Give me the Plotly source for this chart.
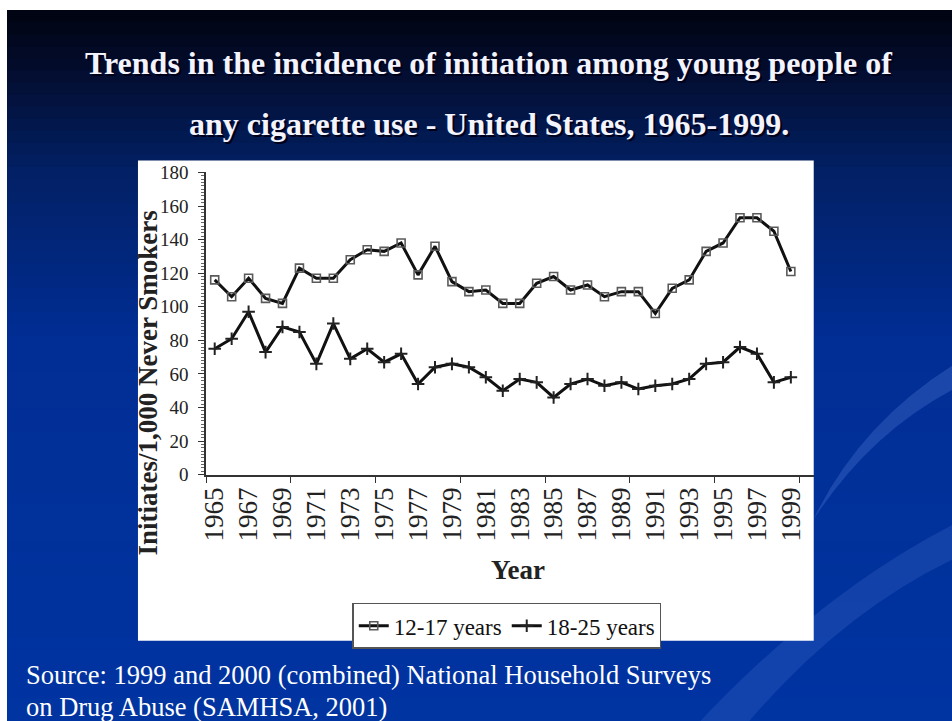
import plotly.graph_objects as go

years = list(range(1965, 2000))
ages_12_17 = [116, 106, 117, 105, 102, 123, 117, 117, 128, 134, 133, 138, 119, 136, 115,
              109, 110, 102, 102, 114, 118, 110, 113, 106, 109, 109, 96, 111, 116, 133,
              138, 153, 153, 145, 121]
ages_18_25 = [75, 81, 97, 73, 88, 85, 66, 90, 69, 75, 67, 72, 54, 64, 66,
              64, 58, 50, 57, 55, 46, 54, 57, 53, 55, 51, 53, 54, 57, 66,
              67, 76, 72, 55, 58]
x_tick_labels = [str(y) for y in range(1965, 2000, 2)]
y_ticks = list(range(0, 181, 20))

W, H = 960, 745
SERIF = "Liberation Serif, Times New Roman, serif"
# mapping from target-picture pixels to figure pixels
AX, BX = 0.996, 3.6
AY, BY = 0.971, 9.7


def fx(ox):
    return ((ox - BX) / AX) / W


def fy(oy):
    return 1 - ((oy - BY) / AY) / H


fig = go.Figure()
fig.add_trace(go.Scatter(
    x=years, y=ages_12_17, name="12-17 years", mode="lines+markers",
    line=dict(color="#111111", width=3),
    marker=dict(symbol="square-open", size=8, color="#5a5a5a", line=dict(width=1.6)),
))
fig.add_trace(go.Scatter(
    x=years, y=ages_18_25, name="18-25 years", mode="lines+markers",
    line=dict(color="#111111", width=3),
    marker=dict(symbol="cross-thin", size=9, color="#222222", line=dict(width=2, color="#222222")),
))

shapes = []
stops = [(0.0, (1, 3, 16)), (0.08, (3, 12, 45)), (0.22, (2, 32, 100)),
         (0.45, (1, 46, 148)), (1.0, (0, 52, 162))]


def col_at(t):
    for (t0, c0), (t1, c1) in zip(stops[:-1], stops[1:]):
        if t0 <= t <= t1:
            f = (t - t0) / (t1 - t0)
            return tuple(int(round(a + (b - a) * f)) for a, b in zip(c0, c1))
    return stops[-1][1]


n = 60
for i in range(n):
    c = col_at((i + 0.5) / n)
    shapes.append(dict(type="rect", xref="paper", yref="paper", layer="below",
                       x0=0, x1=1, y0=max(0, 1 - (i + 1) / n - 0.002), y1=1 - i / n,
                       fillcolor="rgb(%d,%d,%d)" % c, line=dict(width=0)))


def p(x, y):
    return "%.4f,%.4f" % (fx(x), fy(y))


shapes.append(dict(type="path", xref="paper", yref="paper", layer="below",
                   path="M" + p(960, 360) + " Q" + p(860, 420) + " " + p(812, 520)
                        + " Q" + p(870, 430) + " " + p(960, 385) + " Z",
                   fillcolor="rgba(90,130,220,0.30)", line=dict(width=0)))
shapes.append(dict(type="path", xref="paper", yref="paper", layer="below",
                   path="M" + p(960, 520) + " Q" + p(820, 590) + " " + p(690, 730)
                        + " L" + p(740, 730) + " Q" + p(840, 610) + " " + p(960, 555) + " Z",
                   fillcolor="rgba(90,130,220,0.20)", line=dict(width=0)))
# white chart box
shapes.append(dict(type="rect", xref="paper", yref="paper", layer="below",
                   x0=fx(135), x1=fx(813), y0=fy(640), y1=fy(160),
                   fillcolor="white", line=dict(width=0)))

annotations = []
title_lines = [("Trends in the incidence of initiation among young people of", 63),
               ("any cigarette use - United States, 1965-1999.", 124)]
for txt, yc in title_lines:
    for col, dx, dy in [("#000018", 2, -2), ("#f4f4ff", 0, 0)]:
        annotations.append(dict(text="<b>%s</b>" % txt, x=fx(487), y=fy(yc),
                                xref="paper", yref="paper", showarrow=False,
                                xanchor="center", yanchor="middle", xshift=dx, yshift=dy,
                                font=dict(family=SERIF, size=32, color=col)))
annotations.append(dict(text="<b>Initiates/1,000 Never Smokers</b>", x=fx(145), y=fy(382),
                        xref="paper", yref="paper", showarrow=False, textangle=-90,
                        xanchor="center", yanchor="middle",
                        font=dict(family=SERIF, size=27, color="#222222")))
annotations.append(dict(text="<b>Year</b>", x=fx(516), y=fy(569),
                        xref="paper", yref="paper", showarrow=False,
                        xanchor="center", yanchor="middle",
                        font=dict(family=SERIF, size=27, color="#222222")))
for txt, yc in [("Source: 1999 and 2000 (combined) National Household Surveys", 674),
                ("on Drug Abuse (SAMHSA, 2001)", 706)]:
    annotations.append(dict(text=txt, x=fx(21), y=fy(yc), xref="paper", yref="paper",
                            showarrow=False, xanchor="left", yanchor="middle",
                            font=dict(family=SERIF, size=26.5, color="white")))

fig.update_layout(
    width=W, height=H, margin=dict(l=0, r=0, t=0, b=0),
    paper_bgcolor="white", plot_bgcolor="rgba(0,0,0,0)",
    shapes=shapes, annotations=annotations,
    xaxis=dict(domain=[fx(203.5), fx(813)], range=[1964.5, 2000.35],
               showline=True, linecolor="#333333", linewidth=2, showgrid=False, zeroline=False,
               tickmode="array", tickvals=list(range(1965, 2000, 2)), ticktext=x_tick_labels,
               ticks="", tickangle=-90,
               tickfont=dict(family=SERIF, size=27, color="#222222"),
               minor=dict(tickmode="array", tickvals=[1964.5 + 5 * k for k in range(8)],
                          ticks="outside", ticklen=6, tickcolor="#333333", showgrid=False)),
    yaxis=dict(domain=[fy(474), fy(172)], range=[0, 180],
               showline=True, linecolor="#333333", linewidth=2, showgrid=False, zeroline=False,
               tickmode="array", tickvals=y_ticks, ticks="outside", ticklen=6, tickcolor="#333333",
               ticklabelstandoff=6,
               tickfont=dict(family=SERIF, size=19, color="#222222"),
               minor=dict(dtick=2, ticks="outside", ticklen=3, tickcolor="#666666", showgrid=False)),
    legend=dict(orientation="h", x=fx(350), y=fy(602), xanchor="left", yanchor="top",
                bgcolor="white", bordercolor="#555555", borderwidth=1.5,
                font=dict(family=SERIF, size=23, color="#111111"),
                tracegroupgap=0),
    showlegend=True,
)

fig.write_html("out.html", config={"displayModeBar": False},
               post_script="document.body.style.margin='0px';")
